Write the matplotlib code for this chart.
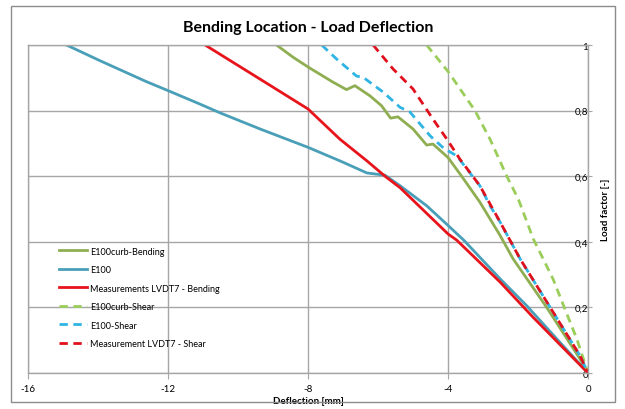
import matplotlib.pyplot as plt
from matplotlib.patches import Rectangle

plt.rcParams['font.family'] = ['Lato', 'DejaVu Sans']
plt.rcParams['axes.unicode_minus'] = False

# curves (deflection in mm, load factor)
e100curb_bend_x = [-8.9, -8.43, -8.0, -7.29, -6.9, -6.66, -6.23, -5.9, -5.64, -5.43, -5.0,
                   -4.61, -4.43, -4.0, -3.61, -3.09, -2.51, -2.14, -1.18, -0.23, 0]
e100curb_bend_y = [1.0, 0.963, 0.933, 0.887, 0.864, 0.876, 0.845, 0.815, 0.777, 0.781, 0.744,
                   0.695, 0.698, 0.657, 0.60, 0.521, 0.419, 0.348, 0.2, 0.043, 0]

e100_x = [-14.9, -13.94, -12.61, -12.0, -11.09, -10.51, -9.37, -8.0, -7.05, -6.32, -5.8, -5.37,
          -4.61, -4.0, -3.55, -2.51, -1.75, -0.9, 0]
e100_y = [1.0, 0.952, 0.888, 0.861, 0.82, 0.793, 0.744, 0.688, 0.645, 0.61, 0.603, 0.571,
          0.51, 0.45, 0.405, 0.287, 0.205, 0.105, 0]

lvdt_bend_x = [-10.94, -9.37, -8.0, -7.09, -6.32, -5.8, -5.37, -4.0, -3.75, -2.51, -1.57, 0]
lvdt_bend_y = [1.0, 0.896, 0.805, 0.713, 0.647, 0.60, 0.565, 0.424, 0.405, 0.277, 0.17, 0]

e100curb_shear_x = [-4.61, -3.99, -3.23, -2.8, -2.32, -1.99, -1.56, -1.0, -0.66, -0.32, 0]
e100curb_shear_y = [1.0, 0.918, 0.8, 0.713, 0.60, 0.53, 0.408, 0.287, 0.195, 0.104, 0]

e100_shear_x = [-7.61, -7.18, -6.61, -6.43, -5.86, -5.37, -5.09, -4.51, -4.12, -3.75,
                -3.09, -2.8, -2.51, -1.94, -1.0, -0.23, 0]
e100_shear_y = [1.0, 0.957, 0.905, 0.902, 0.857, 0.81, 0.796, 0.723, 0.685, 0.662,
                0.571, 0.51, 0.46, 0.348, 0.186, 0.053, 0]

lvdt_shear_x = [-6.14, -5.57, -5.0, -4.43, -4.0, -3.66, -3.09, -2.51, -1.94, -1.0, -0.23, 0]
lvdt_shear_y = [1.0, 0.927, 0.866, 0.774, 0.708, 0.652, 0.571, 0.46, 0.348, 0.186, 0.053, 0]

x_ticks = [-16, -12, -8, -4, 0]
x_labels = ['-16', '-12', '-8', '-4', '0']
y_ticks = [0, 0.2, 0.4, 0.6, 0.8, 1]
y_labels = ['0', '0,2', '0,4', '0,6', '0,8', '1']

fig = plt.figure(figsize=(6.25, 4.1), dpi=100)
ax = fig.add_axes([0.0448, 0.0878, 0.896, 0.8])

grid_c = '#a6a6a6'
dash = (0, (3, 2))
ax.plot(e100curb_bend_x, e100curb_bend_y, color='#8fae52', lw=2, label='E100curb-Bending')
ax.plot(e100_x, e100_y, color='#4a9fb8', lw=2, label='E100')
ax.plot(lvdt_bend_x, lvdt_bend_y, color='#e8141c', lw=2, label='Measurements LVDT7 - Bending')
ax.plot(e100curb_shear_x, e100curb_shear_y, color='#9acd5a', lw=2, ls=dash, label='E100curb-Shear')
ax.plot(e100_shear_x, e100_shear_y, color='#2fb4e4', lw=2, ls=dash, label='E100-Shear')
ax.plot(lvdt_shear_x, lvdt_shear_y, color='#e0101c', lw=2, ls=dash, label='Measurement LVDT7 - Shear')

ax.set_xlim(-16, 0)
ax.set_ylim(0, 1)
ax.set_xticks(x_ticks)
ax.set_xticklabels(x_labels)
ax.set_yticks(y_ticks)
ax.set_yticklabels(y_labels)
ax.grid(True, color=grid_c, lw=1)
for s in ax.spines.values():
    s.set_color(grid_c)
    s.set_linewidth(1)

ax.tick_params(axis='x', direction='out', length=4, color=grid_c, labelsize=7, pad=4)
ax.yaxis.set_ticks_position('right')
ax.tick_params(axis='y', direction='inout', length=6, color=grid_c, labelsize=7, pad=-3)
for lbl in ax.get_yticklabels():
    lbl.set_ha('right')

ax.yaxis.set_label_position('right')
ax.set_ylabel('Load factor [-]', fontsize=7, fontweight='bold', labelpad=6)
ax.set_xlabel('Deflection [mm]', fontsize=7, fontweight='bold', labelpad=2)
ax.set_title('Bending Location - Load Deflection', fontsize=11.5, fontweight='bold', pad=10)

ax.legend(loc='upper left', bbox_to_anchor=(0.04, 0.41), frameon=False, fontsize=6.5,
          handlelength=3.2, labelspacing=1.05, handletextpad=0.3)

fig.patches.append(Rectangle((0.0176, 0.017), 0.966, 0.966, transform=fig.transFigure,
                             fill=False, ec='#8c8c8c', lw=1))

fig.savefig('out.png', dpi=100)
